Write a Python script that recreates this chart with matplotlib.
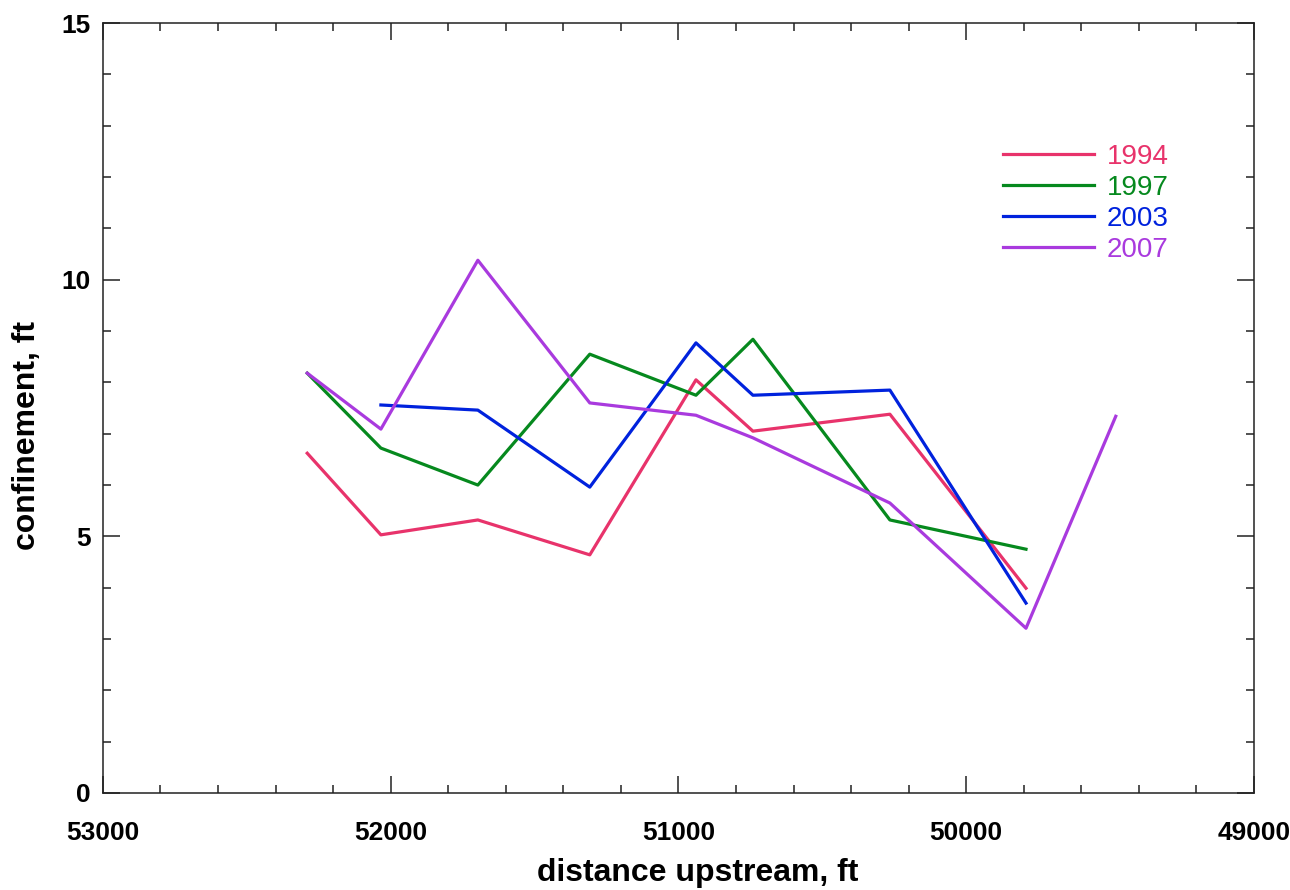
import matplotlib
matplotlib.use("Agg")
import matplotlib.pyplot as plt
from matplotlib.ticker import MultipleLocator

plt.rcParams['font.family'] = ['Liberation Sans', 'DejaVu Sans']

# distance upstream (ft) of each cross section
dist = [52290, 52034, 51697, 51308, 50939, 50741, 50265, 49792, 49480]

# confinement (ft) per survey year; None where not surveyed
conf_1994 = [6.62, 5.03, 5.32, 4.64, 8.05, 7.05, 7.38, 3.99, None]
conf_1997 = [8.18, 6.72, 6.00, 8.55, 7.75, 8.84, 5.32, 4.75, None]
conf_2003 = [None, 7.56, 7.46, 5.96, 8.77, 7.75, 7.85, 3.70, None]
conf_2007 = [8.18, 7.09, 10.38, 7.60, 7.36, 6.92, 5.65, 3.21, 7.34]

years = ['1994', '1997', '2003', '2007']
colors = ['#E8336B', '#06891E', '#0022DD', '#A93ADE']

fig = plt.figure(figsize=(12.9, 8.9), dpi=100)
ax = fig.add_axes([0.0798, 0.109, 0.8922, 0.865])

for yr, vals, c in zip(years, [conf_1994, conf_1997, conf_2003, conf_2007], colors):
    xs = [d for d, v in zip(dist, vals) if v is not None]
    ys = [v for v in vals if v is not None]
    ax.plot(xs, ys, color=c, lw=2.3, label=yr)

ax.set_xlim(53000, 49000)
ax.set_ylim(0, 15)
ax.xaxis.set_major_locator(MultipleLocator(1000))
ax.xaxis.set_minor_locator(MultipleLocator(200))
ax.yaxis.set_major_locator(MultipleLocator(5))
ax.yaxis.set_minor_locator(MultipleLocator(1))

ax.tick_params(which='both', direction='in', top=True, right=True, width=1.1, color='#222222')
ax.tick_params(which='major', length=12)
ax.tick_params(which='minor', length=6)
ax.tick_params(axis='x', which='major', pad=20)
ax.tick_params(axis='y', which='major', pad=9)
for lab in ax.get_xticklabels() + ax.get_yticklabels():
    lab.set_fontsize(19)
    lab.set_fontweight('bold')
for s in ax.spines.values():
    s.set_linewidth(1.1)
    s.set_color('#222222')

ax.set_xlabel('distance upstream, ft', fontsize=23, fontweight='bold')
ax.set_ylabel('confinement, ft', fontsize=23, fontweight='bold')
ax.xaxis.set_label_coords(0.517, -0.085)
ax.yaxis.set_label_coords(-0.053, 0.464)

ax.legend(loc='upper left', bbox_to_anchor=(0.772, 0.858), frameon=False,
          fontsize=20, labelcolor='linecolor', handlelength=3.3,
          handletextpad=0.45, labelspacing=0.18, borderaxespad=0)

fig.savefig('out.png', dpi=100)
